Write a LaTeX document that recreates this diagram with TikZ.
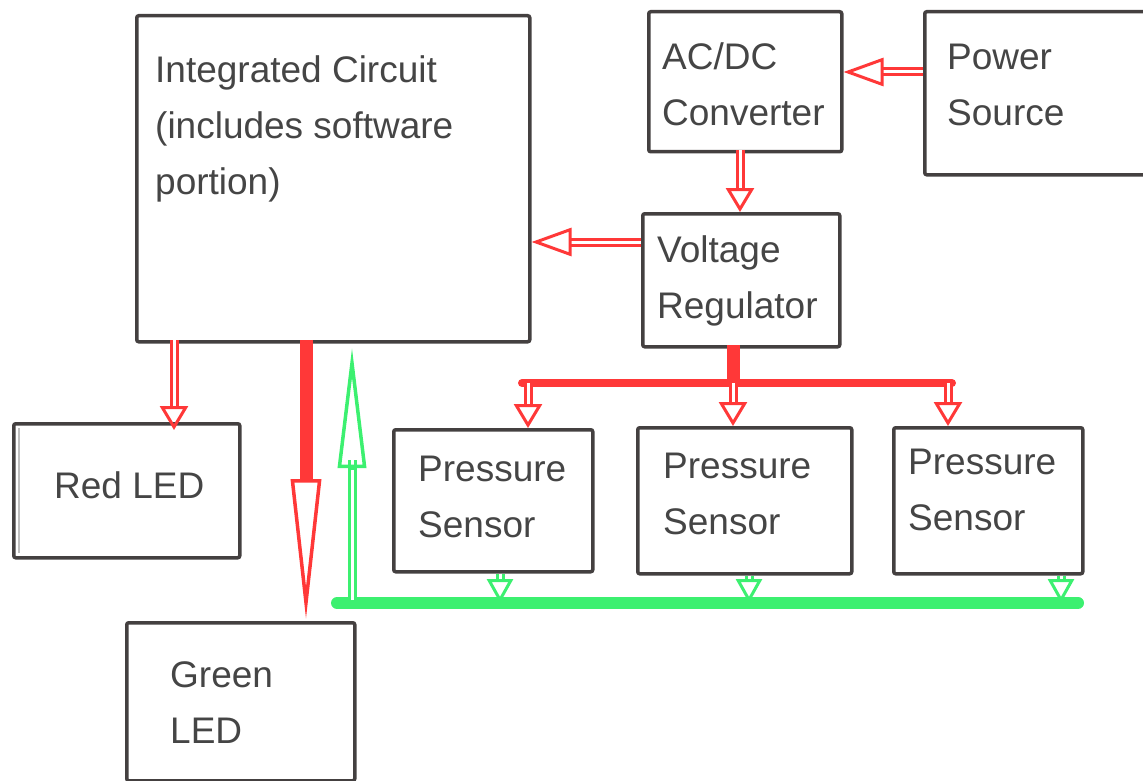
\documentclass[tikz,border=0pt]{standalone}
\usepackage{fontspec}
\setmainfont{Liberation Sans}
\usetikzlibrary{arrows.meta}
\definecolor{boxc}{HTML}{444040}
\definecolor{txtc}{HTML}{454545}
\definecolor{arred}{HTML}{FF3838}
\definecolor{argreen}{HTML}{3CF070}
\tikzset{
  box/.style={draw=boxc, line width=3.5pt, rounded corners=2pt, anchor=north west, inner sep=0pt},
  lbl/.style={anchor=west, inner sep=0pt, text=txtc, align=left, font=\fontsize{37}{56}\selectfont},
  hred/.style={draw=arred, line width=3pt, double=white, double distance=3pt,
    -{Triangle[open, length=24pt, width=28pt, line width=3pt]}},
  hredlong/.style={draw=arred, line width=3pt, double=white, double distance=3pt,
    -{Triangle[open, length=40pt, width=28pt, line width=3pt]}},
  hgreen/.style={draw=argreen, line width=3pt, double=white, double distance=3pt,
    -{Triangle[open, length=24pt, width=26pt, line width=3pt]}},
}
\begin{document}
\begin{tikzpicture}[x=1pt,y=-1pt]
\useasboundingbox (0,0) rectangle (1143,781);
\clip (0,0) rectangle (1143,781);
% boxes
\node[box, minimum width=393pt, minimum height=326pt] (ic) at (135,14) {};
\node[box, minimum width=193pt, minimum height=140pt] (acdc) at (647,10) {};
\node[box, minimum width=240pt, minimum height=163pt] (pwr) at (923,10) {};
\node[box, minimum width=197pt, minimum height=133pt] (vr) at (641,212) {};
\node[box, minimum width=226pt, minimum height=134pt] (rled) at (12,422) {};
\node[box, minimum width=228pt, minimum height=158pt] (gled) at (125,621) {};
\node[box, minimum width=199pt, minimum height=142pt] (ps1) at (392,428) {};
\node[box, minimum width=214pt, minimum height=146pt] (ps2) at (636,426) {};
\node[box, minimum width=189pt, minimum height=146pt] (ps3) at (892,426) {};
\draw[black!25, line width=1.5pt] (19,428) -- (19,553);
% labels
\node[lbl] (icl) at (155,129) {Integrated Circuit\\(includes software\\portion)};
\node[lbl] (acdcl) at (662,84) {AC/DC\\Converter};
\node[lbl] (pwrl) at (947,85) {Power\\Source};
\node[lbl] (vrl) at (657,281) {Voltage\\Regulator};
\node[lbl] (rledl) at (54,485) {Red LED};
\node[lbl] (ps1l) at (418,497) {Pressure\\Sensor};
\node[lbl] (ps2l) at (663,494) {Pressure\\Sensor};
\node[lbl] (ps3l) at (908,490) {Pressure\\Sensor};
\node[lbl] (gledl) at (170,703) {Green\\LED};
% coordinates
\coordinate (pwrA) at (pwr.west |- 0,72);
\coordinate (acdcA) at (acdc.east |- 0,72);
\coordinate (acB) at (740,150);
\coordinate (vrB) at (740,212);
\coordinate (vrC) at (vr.west |- 0,242);
\coordinate (icC) at (ic.east |- 0,242);
\coordinate (icR) at (174,340);
\coordinate (rledT) at (174,430);
\coordinate (icG) at (306,340);
\coordinate (gledT) at (306,619);
\coordinate (busG) at (352,600);
\coordinate (icU) at (352,348);
\coordinate (vrD) at (733,345);
\coordinate (busR) at (733,383);
\coordinate (busRl) at (522,383);
\coordinate (busRr) at (952,383);
% red arrows
\draw[hredlong] (pwrA) -- (acdcA);
\draw[hred] (acB) -- (vrB);
\draw[hredlong] (vrC) -- (icC);
\draw[hred] (icR) -- (rledT);
\draw[arred, line width=13pt] (icG) -- (306,482);
\draw[arred, line width=2pt, -{Triangle[open, length=140pt, width=30pt, line width=3.5pt]}] (306,470) -- (gledT);
\draw[arred, line width=8pt, line cap=round] (busRl) -- (busRr);
\draw[arred, line width=13pt] (vrD) -- (busR);
\draw[hred] (528,383) -- (ps1.north -| 528,0);
\draw[hred] (busR) -- (ps2.north -| 733,0);
\draw[hred] (948,383) -- (ps3.north -| 948,0);
% green
\draw[argreen, line width=12pt, line cap=round] (337,603) -- (1078,603);
\draw[argreen, line width=3pt, double=white, double distance=3pt] (busG) -- (352,460);
\draw[argreen, line width=3pt, -{Triangle[open, length=120pt, width=28pt, line width=3.5pt]}] (352,470) -- (icU);
\draw[hgreen] (ps1.south -| 500,0) -- (500,603);
\draw[hgreen] (ps2.south -| 749,0) -- (749,603);
\draw[hgreen] (ps3.south -| 1061,0) -- (1061,603);
\end{tikzpicture}
\end{document}
